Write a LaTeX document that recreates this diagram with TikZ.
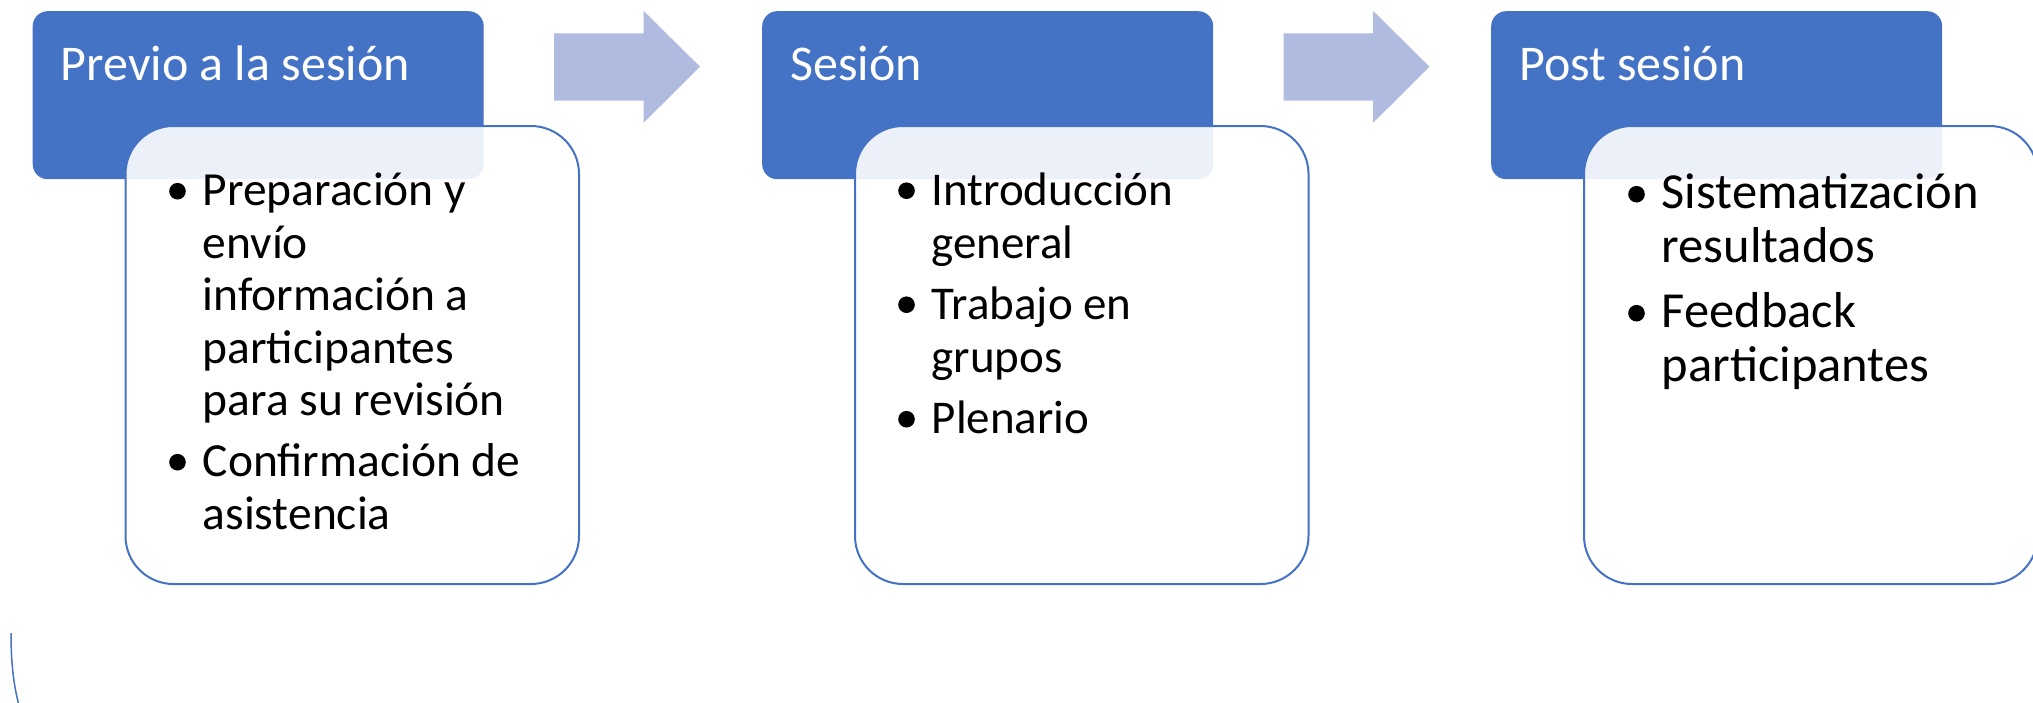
\documentclass[tikz,border=0pt]{standalone}
\usepackage{fontspec}
\setmainfont{Carlito}
\definecolor{hdrblue}{HTML}{4472C4}
\definecolor{arrowblue}{RGB}{175,188,223}
\tikzset{
  hdr/.style={fill=hdrblue, draw=none, rounded corners=15pt, minimum width=451pt, minimum height=168pt, anchor=north west, inner sep=0pt},
  card/.style={draw=hdrblue, line width=2pt, fill=white, fill opacity=0.9, rounded corners=48pt, minimum width=453.5pt, minimum height=458pt, anchor=north west, inner sep=0pt},
  blockarrow/.style={fill=arrowblue, draw=none},
  hdrtext/.style={text=white, font=\fontsize{50}{58}\selectfont, anchor=base west, inner sep=0pt},
  bodytext/.style={text=black, anchor=base west, inner sep=0pt},
}
\newcommand{\bul}{\raisebox{6pt}{\tikz[x=1pt,y=1pt]\fill[black] (0,0) circle[radius=8.3pt];}}
\begin{document}
\begin{tikzpicture}[x=1pt,y=-1pt]
\useasboundingbox (0,0) rectangle (2033,702);
\clip (0,0) rectangle (2033,702);

% group 1
\begin{scope}[xshift=0pt]
\node[hdr] (h1) at (32.5,11) {};
\node[card] (c1) at (124.5,125) {};
\node[hdrtext] (ht1) at (60.5,80.7) {Previo a la sesión};
\node[bodytext, font=\fontsize{47.5}{52.5}\selectfont] (b1) at (169,205.5) {\begin{tabular}[t]{@{}p{33.5pt}@{}l@{}}
\bul & Preparación y\\
 & envío\\
 & información a\\
 & participantes\\
 & para su revisión\\[8.5pt]
\bul & Confirmación de\\
 & asistencia
\end{tabular}};
\fill[blockarrow] (554,33.3) -- (643.7,33.3) -- (643.7,11) -- (700,66.7) -- (643.7,122.7) -- (643.7,100.7) -- (554,100.7) -- cycle;
\end{scope}

% group 2
\begin{scope}[xshift=729.5pt]
\node[hdr] (h2) at (32.5,11) {};
\node[card] (c2) at (124.5,125) {};
\node[hdrtext] (ht2) at (60.5,80.7) {Sesión};
\node[bodytext, font=\fontsize{47}{53}\selectfont] (b2) at (168.5,205) {\begin{tabular}[t]{@{}p{33.5pt}@{}l@{}}
\bul & Introducción\\
 & general\\[8pt]
\bul & Trabajo en\\
 & grupos\\[8.5pt]
\bul & Plenario
\end{tabular}};
\fill[blockarrow] (554,33.3) -- (643.7,33.3) -- (643.7,11) -- (700,66.7) -- (643.7,122.7) -- (643.7,100.7) -- (554,100.7) -- cycle;
\end{scope}

% group 3
\begin{scope}[xshift=1458.5pt]
\node[hdr] (h3) at (32.5,11) {};
\node[card] (c3) at (124.5,125) {};
\node[hdrtext] (ht3) at (60.5,80.7) {Post sesión};
\node[bodytext, font=\fontsize{50.5}{54}\selectfont] (b3) at (169.5,208.5) {\begin{tabular}[t]{@{}p{33.5pt}@{}l@{}}
\bul & Sistematización\\
 & resultados\\[11pt]
\bul & Feedback\\
 & participantes
\end{tabular}};
\end{scope}

% stray curve at bottom left
\draw[hdrblue, line width=1.5pt] (11,633) .. controls (11,665) and (14,690) .. (21,712);
\end{tikzpicture}
\end{document}
